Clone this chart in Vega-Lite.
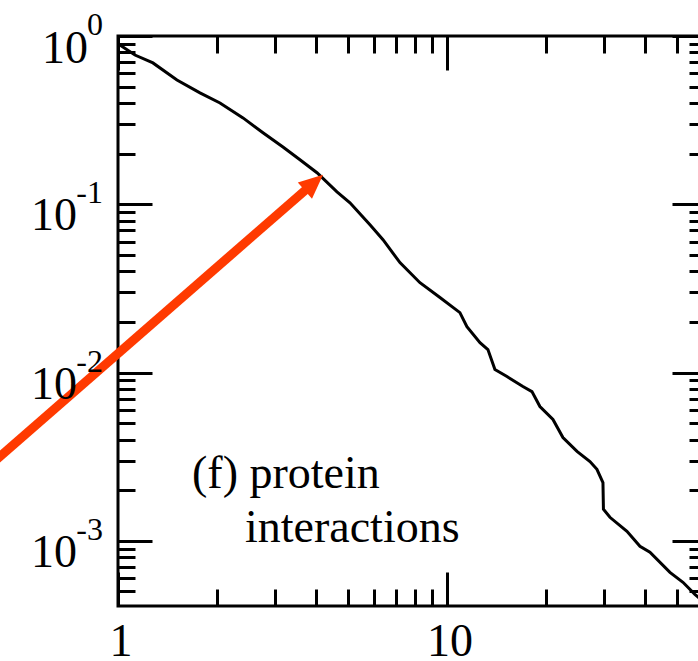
{
  "$schema": "https://vega.github.io/schema/vega-lite/v6.json",
  "width": 588,
  "height": 570,
  "autosize": {"type": "none"},
  "padding": {"left": 118, "top": 36, "right": 0, "bottom": 55},
  "background": "white",
  "config": {
    "view": {"stroke": "black", "strokeWidth": 3},
    "axis": {"domain": false, "grid": false, "labels": false, "tickColor": "black", "tickWidth": 3}
  },
  "layer": [
    {
      "data": {"values": [
        {"k": 1, "p": 0.9}, {"k": 1.126, "p": 0.771}, {"k": 1.277, "p": 0.692}, {"k": 1.511, "p": 0.548},
        {"k": 1.775, "p": 0.459}, {"k": 2.042, "p": 0.4}, {"k": 2.399, "p": 0.326}, {"k": 2.759, "p": 0.266},
        {"k": 3.173, "p": 0.219}, {"k": 3.574, "p": 0.184}, {"k": 4.026, "p": 0.154}, {"k": 4.631, "p": 0.1186},
        {"k": 5.072, "p": 0.1021}, {"k": 5.834, "p": 0.0755}, {"k": 6.391, "p": 0.0616}, {"k": 7.196, "p": 0.045},
        {"k": 8.279, "p": 0.0342}, {"k": 9.521, "p": 0.0279}, {"k": 10.95, "p": 0.0227}, {"k": 11.5, "p": 0.01875},
        {"k": 12.6, "p": 0.01507}, {"k": 13.32, "p": 0.0137}, {"k": 13.99, "p": 0.01042}, {"k": 15.22, "p": 0.00947},
        {"k": 17.02, "p": 0.00826}, {"k": 18.13, "p": 0.00771}, {"k": 19.17, "p": 0.00628}, {"k": 21.0, "p": 0.00526},
        {"k": 22.52, "p": 0.00411}, {"k": 24.85, "p": 0.0034}, {"k": 27.21, "p": 0.00296}, {"k": 28.57, "p": 0.00266},
        {"k": 29.8, "p": 0.00222}, {"k": 29.9, "p": 0.00154}, {"k": 31.29, "p": 0.00138}, {"k": 35.25, "p": 0.00114},
        {"k": 38.61, "p": 0.000928}, {"k": 41.4, "p": 0.000855}, {"k": 47.63, "p": 0.00065}, {"k": 52.17, "p": 0.000567},
        {"k": 56.72, "p": 0.000481}, {"k": 59, "p": 0.00045}
      ]},
      "mark": {"type": "line", "color": "black", "strokeWidth": 3},
      "encoding": {
        "x": {"field": "k", "type": "quantitative",
          "scale": {"type": "log", "domain": [1, 61.3], "nice": false},
          "axis": {"orient": "bottom", "title": null, "labels": false,
            "values": [1, 2, 3, 4, 5, 6, 7, 8, 9, 10, 20, 30, 40, 50, 60],
            "tickSize": {"condition": {"test": "datum.value == 1 || datum.value == 10", "value": -34}, "value": -17}}},
        "y": {"field": "p", "type": "quantitative",
          "scale": {"type": "log", "domain": [0.00041, 1], "nice": false},
          "axis": {"orient": "left", "title": null, "labels": false,
            "values": [1, 0.9, 0.8, 0.7, 0.6, 0.5, 0.4, 0.3, 0.2, 0.1, 0.09, 0.08, 0.07, 0.06, 0.05, 0.04, 0.03, 0.02, 0.01, 0.009, 0.008, 0.007, 0.006, 0.005, 0.004, 0.003, 0.002, 0.001, 0.0009, 0.0008, 0.0007, 0.0006, 0.0005],
            "tickSize": {"condition": {"test": "datum.value == 1 || datum.value == 0.1 || datum.value == 0.01 || datum.value == 0.001", "value": -34}, "value": -17}}}
      }
    },
    {
      "data": {"values": [{"ax": 0.355, "ay": 0.00222}, {"ax": 3.78, "ay": 0.1253}]},
      "mark": {"type": "line", "color": "#ff3a00", "strokeWidth": 9, "clip": false, "strokeCap": "butt"},
      "encoding": {
        "x": {"field": "ax", "type": "quantitative",
          "scale": {"type": "log", "domain": [1, 61.3], "nice": false},
          "axis": {"orient": "top", "title": null, "labels": false,
            "values": [1, 2, 3, 4, 5, 6, 7, 8, 9, 10, 20, 30, 40, 50, 60],
            "tickSize": {"condition": {"test": "datum.value == 1 || datum.value == 10", "value": -34}, "value": -17}}},
        "y": {"field": "ay", "type": "quantitative",
          "scale": {"type": "log", "domain": [0.00041, 1], "nice": false},
          "axis": {"orient": "right", "title": null, "labels": false,
            "values": [1, 0.9, 0.8, 0.7, 0.6, 0.5, 0.4, 0.3, 0.2, 0.1, 0.09, 0.08, 0.07, 0.06, 0.05, 0.04, 0.03, 0.02, 0.01, 0.009, 0.008, 0.007, 0.006, 0.005, 0.004, 0.003, 0.002, 0.001, 0.0009, 0.0008, 0.0007, 0.0006, 0.0005],
            "tickSize": {"condition": {"test": "datum.value == 1 || datum.value == 0.1 || datum.value == 0.01 || datum.value == 0.001", "value": -34}, "value": -17}}}
      }
    },
    {
      "data": {"values": [{"ax": 4.2, "ay": 0.1496}]},
      "mark": {"type": "point", "shape": "M0,0L-0.45,1L0.45,1Z", "size": 2304, "angle": 49, "filled": true, "color": "#ff3a00", "opacity": 1, "strokeWidth": 0, "clip": false},
      "encoding": {
        "x": {"field": "ax", "type": "quantitative", "scale": {"type": "log", "domain": [1, 61.3], "nice": false}, "axis": null},
        "y": {"field": "ay", "type": "quantitative", "scale": {"type": "log", "domain": [0.00041, 1], "nice": false}, "axis": null}
      }
    },
    {
      "data": {"values": [{"v": 1, "e": "0"}, {"v": 0.1, "e": "-1"}, {"v": 0.01, "e": "-2"}, {"v": 0.001, "e": "-3"}]},
      "transform": [{"filter": "datum.e == '0'"}],
      "mark": {"type": "text", "text": "10", "font": "Liberation Serif", "fontSize": 46, "align": "right", "baseline": "alphabetic", "dx": -30, "dy": 27, "color": "black", "clip": false},
      "encoding": {
        "x": {"datum": 1, "type": "quantitative", "scale": {"type": "log", "domain": [1, 61.3], "nice": false}, "axis": null},
        "y": {"field": "v", "type": "quantitative", "scale": {"type": "log", "domain": [0.00041, 1], "nice": false}, "axis": null}
      }
    },
    {
      "data": {"values": [{"v": 1, "e": "0"}, {"v": 0.1, "e": "-1"}, {"v": 0.01, "e": "-2"}, {"v": 0.001, "e": "-3"}]},
      "transform": [{"filter": "datum.e != '0'"}],
      "mark": {"type": "text", "text": "10", "font": "Liberation Serif", "fontSize": 46, "align": "right", "baseline": "alphabetic", "dx": -41, "dy": 26, "color": "black", "clip": false},
      "encoding": {
        "x": {"datum": 1, "type": "quantitative", "scale": {"type": "log", "domain": [1, 61.3], "nice": false}, "axis": null},
        "y": {"field": "v", "type": "quantitative", "scale": {"type": "log", "domain": [0.00041, 1], "nice": false}, "axis": null}
      }
    },
    {
      "data": {"values": [{"v": 1, "e": "0"}, {"v": 0.1, "e": "-1"}, {"v": 0.01, "e": "-2"}, {"v": 0.001, "e": "-3"}]},
      "mark": {"type": "text", "font": "Liberation Serif", "fontSize": 32, "align": "right", "baseline": "alphabetic", "dx": -15, "dy": -1, "color": "black", "clip": false},
      "encoding": {
        "text": {"field": "e"},
        "x": {"datum": 1, "type": "quantitative", "scale": {"type": "log", "domain": [1, 61.3], "nice": false}, "axis": null},
        "y": {"field": "v", "type": "quantitative", "scale": {"type": "log", "domain": [0.00041, 1], "nice": false}, "axis": null}
      }
    },
    {
      "data": {"values": [{"k": 1, "t": "1"}, {"k": 10, "t": "10"}]},
      "mark": {"type": "text", "font": "Liberation Serif", "fontSize": 46, "align": "center", "baseline": "alphabetic", "dx": 3, "dy": 50, "color": "black", "clip": false},
      "encoding": {
        "text": {"field": "t"},
        "x": {"field": "k", "type": "quantitative", "scale": {"type": "log", "domain": [1, 61.3], "nice": false}, "axis": null},
        "y": {"datum": 0.00041, "type": "quantitative", "scale": {"type": "log", "domain": [0.00041, 1], "nice": false}, "axis": null}
      }
    },
    {
      "data": {"values": [{"ax": 1.679, "ay": 0.00205, "t": "(f) protein"}, {"ax": 2.432, "ay": 0.00098, "t": "interactions"}]},
      "mark": {"type": "text", "font": "Liberation Serif", "fontSize": 46, "align": "left", "baseline": "alphabetic", "color": "black"},
      "encoding": {
        "text": {"field": "t"},
        "x": {"field": "ax", "type": "quantitative", "scale": {"type": "log", "domain": [1, 61.3], "nice": false}, "axis": null},
        "y": {"field": "ay", "type": "quantitative", "scale": {"type": "log", "domain": [0.00041, 1], "nice": false}, "axis": null}
      }
    }
  ],
  "resolve": {"axis": {"x": "independent", "y": "independent"}}
}
